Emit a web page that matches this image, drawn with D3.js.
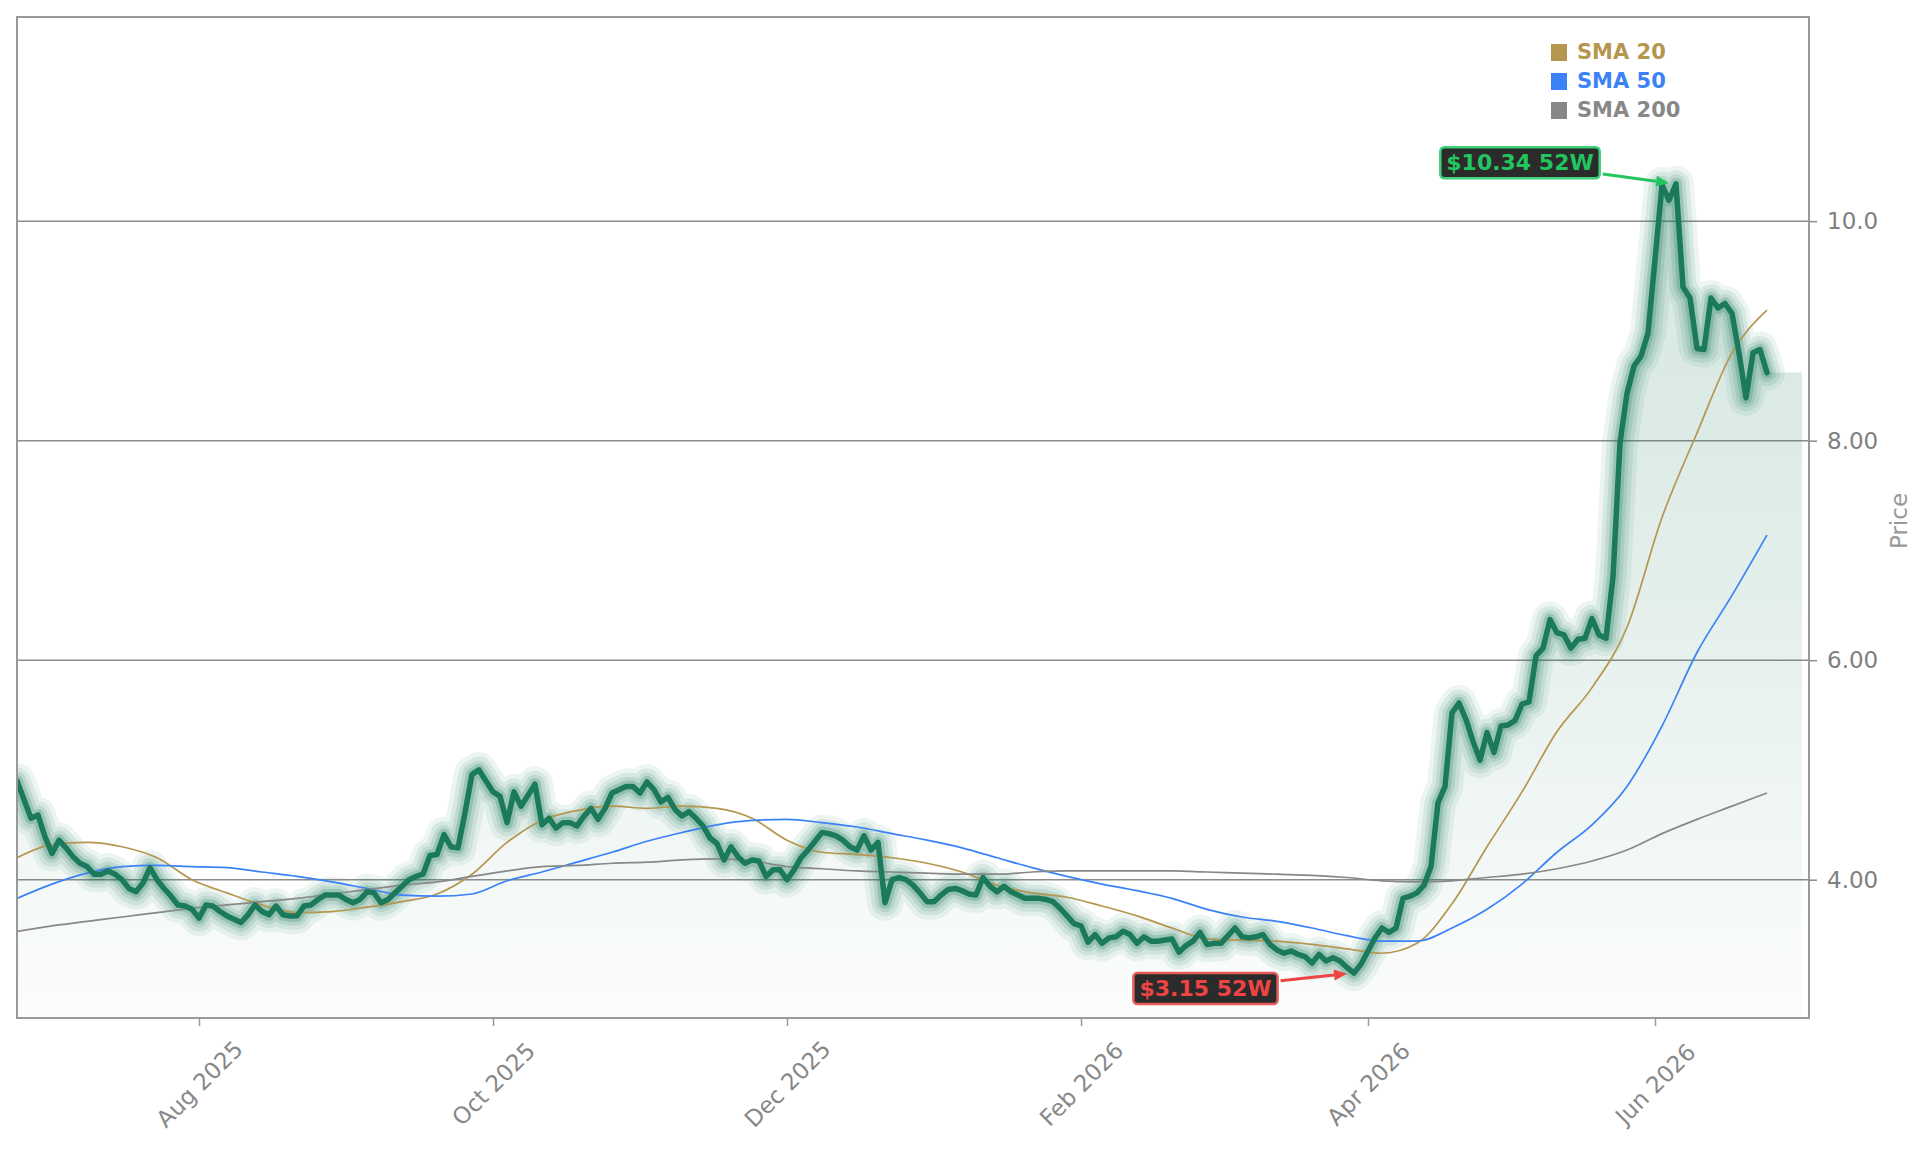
<!DOCTYPE html>
<html>
<head>
<meta charset="utf-8">
<script src="https://cdn.jsdelivr.net/npm/d3@7"></script>
<style>
  html, body { margin: 0; padding: 0; background: #fff; }
  svg { display: block; font-family: "DejaVu Sans", sans-serif; }
</style>
</head>
<body>
<svg id="chart"></svg>
<script>
// daily closes, one per trading day (index 0 = first day shown)
const price = [
  4.90, 4.73, 4.56, 4.59, 4.39, 4.24, 4.36, 4.29, 4.21, 4.15,
  4.12, 4.05, 4.05, 4.08, 4.05, 4.00, 3.92, 3.89, 3.97, 4.11,
  4.00, 3.92, 3.85, 3.77, 3.76, 3.73, 3.65, 3.77, 3.76, 3.71,
  3.67, 3.64, 3.61, 3.68, 3.77, 3.71, 3.68, 3.76, 3.68, 3.67,
  3.67, 3.76, 3.77, 3.82, 3.86, 3.86, 3.86, 3.82, 3.79, 3.82,
  3.89, 3.88, 3.79, 3.82, 3.88, 3.94, 4.00, 4.03, 4.05, 4.22,
  4.23, 4.41, 4.30, 4.29, 4.61, 4.96, 5.00, 4.90, 4.80, 4.76,
  4.52, 4.80, 4.67, 4.77, 4.87, 4.50, 4.56, 4.47, 4.52, 4.52,
  4.49, 4.58, 4.65, 4.55, 4.65, 4.79, 4.82, 4.85, 4.85, 4.79,
  4.89, 4.82, 4.71, 4.75, 4.64, 4.58, 4.62, 4.56, 4.49, 4.38,
  4.33, 4.18, 4.30, 4.21, 4.15, 4.18, 4.17, 4.03, 4.09, 4.09,
  4.00, 4.09, 4.20, 4.27, 4.35, 4.43, 4.42, 4.40, 4.36, 4.30,
  4.27, 4.40, 4.27, 4.34, 3.79, 4.00, 4.02, 4.00, 3.95, 3.88,
  3.80, 3.80, 3.86, 3.91, 3.92, 3.90, 3.87, 3.86, 4.02, 3.94,
  3.89, 3.94, 3.89, 3.86, 3.83, 3.83, 3.83, 3.82, 3.80, 3.74,
  3.67, 3.60, 3.58, 3.43, 3.50, 3.42, 3.47, 3.48, 3.53, 3.50,
  3.42, 3.48, 3.44, 3.44, 3.45, 3.46, 3.34, 3.40, 3.44, 3.52,
  3.41, 3.42, 3.42, 3.49, 3.56, 3.48, 3.47, 3.48, 3.50, 3.41,
  3.36, 3.33, 3.35, 3.32, 3.30, 3.24, 3.32, 3.26, 3.29, 3.26,
  3.20, 3.15, 3.23, 3.35, 3.47, 3.56, 3.52, 3.56, 3.83, 3.85,
  3.88, 3.95, 4.12, 4.70, 4.85, 5.52, 5.61, 5.46, 5.26, 5.09,
  5.34, 5.16, 5.40, 5.41, 5.45, 5.60, 5.62, 6.04, 6.11, 6.37,
  6.25, 6.23, 6.11, 6.19, 6.20, 6.38, 6.23, 6.20, 6.76, 7.98,
  8.43, 8.68, 8.77, 8.98, 9.65, 10.33, 10.19, 10.34, 9.40, 9.30,
  8.84, 8.83, 9.30, 9.21, 9.25, 9.16, 8.80, 8.39, 8.80, 8.83,
  8.62
];

// moving averages, sampled every 5 trading days
const smaStep = 5;
const sma20 = [4.20, 4.32, 4.34, 4.30, 4.20, 4.00, 3.88, 3.77, 3.70, 3.71, 3.75, 3.80, 3.87, 4.05, 4.34, 4.54, 4.63,
  4.67, 4.65, 4.67, 4.65, 4.56, 4.36, 4.25, 4.23, 4.20, 4.15, 4.07, 3.95, 3.88, 3.84, 3.76, 3.67, 3.56, 3.46,
  3.45, 3.44, 3.41, 3.37, 3.33, 3.42, 3.78, 4.30, 4.80, 5.35, 5.75, 6.30, 7.30, 8.07, 8.80, 9.19];
const sma50 = [3.83, 3.96, 4.06, 4.12, 4.13, 4.12, 4.11, 4.07, 4.03, 3.98, 3.92, 3.86, 3.85, 3.87, 3.99, 4.07, 4.16,
  4.25, 4.35, 4.43, 4.50, 4.54, 4.55, 4.52, 4.48, 4.42, 4.36, 4.29, 4.20, 4.11, 4.03, 3.96, 3.90, 3.83, 3.73,
  3.66, 3.62, 3.56, 3.49, 3.44, 3.44, 3.56, 3.73, 3.96, 4.25, 4.50, 4.85, 5.40, 6.07, 6.59, 7.14];
const sma200 = [3.53, 3.58, 3.62, 3.66, 3.70, 3.74, 3.77, 3.80, 3.83, 3.87, 3.91, 3.95, 3.98, 4.03, 4.08, 4.12, 4.13,
  4.15, 4.16, 4.18, 4.19, 4.17, 4.12, 4.10, 4.08, 4.07, 4.06, 4.05, 4.05, 4.07, 4.08, 4.08, 4.08, 4.08, 4.07,
  4.06, 4.05, 4.04, 4.02, 3.99, 3.98, 3.99, 4.02, 4.05, 4.10, 4.17, 4.27, 4.42, 4.55, 4.67, 4.79];

const xTickDays = [26, 68, 110, 152, 193, 234];
const xTickLabels = ["Aug 2025", "Oct 2025", "Dec 2025", "Feb 2026", "Apr 2026", "Jun 2026"];
const yTicks = [4, 6, 8, 10];
const yTickLabels = ["4.00", "6.00", "8.00", "10.0"];
const legendNames = ["SMA 20", "SMA 50", "SMA 200"];
const legendColors = ["#b5964f", "#3b82f6", "#888888"];

const W = 1929, H = 1151;
const plot = {left: 17, right: 1809, top: 17, bottom: 1018};
const lineColor = "#1b7a5b";
const fillEndDay = 255;

const svg = d3.select('#chart').attr('width', W).attr('height', H);
svg.append('rect').attr('width', W).attr('height', H).attr('fill', '#fff');

const x = d3.scaleLinear().domain([0, 256]).range([plot.left, plot.right]);
const y = d3.scaleLinear().domain([2.74, 11.86]).range([plot.bottom, plot.top]);

const defs = svg.append('defs');
defs.append('clipPath').attr('id', 'clip')
  .append('rect')
  .attr('x', plot.left).attr('y', plot.top)
  .attr('width', plot.right - plot.left).attr('height', plot.bottom - plot.top);

const grad = defs.append('linearGradient').attr('id', 'areaGrad')
  .attr('gradientUnits', 'userSpaceOnUse')
  .attr('x1', 0).attr('x2', 0)
  .attr('y1', y(d3.max(price))).attr('y2', plot.bottom);
grad.append('stop').attr('offset', '0%').attr('stop-color', lineColor).attr('stop-opacity', 0.19);
grad.append('stop').attr('offset', '50%').attr('stop-color', lineColor).attr('stop-opacity', 0.12);
grad.append('stop').attr('offset', '100%').attr('stop-color', lineColor).attr('stop-opacity', 0.015);

// grid
svg.append('g').selectAll('line')
  .data(yTicks).enter().append('line')
  .attr('x1', plot.left).attr('x2', plot.right)
  .attr('y1', d => y(d)).attr('y2', d => y(d))
  .attr('stroke', '#8c8c8c').attr('stroke-width', 1.5);

const body = svg.append('g').attr('clip-path', 'url(#clip)');

const pts = price.map((p, i) => [i, p]);
const fillPts = pts.concat([[fillEndDay, price[price.length - 1]]]);

const area = d3.area()
  .x(d => x(d[0])).y0(plot.bottom).y1(d => y(d[1]));
body.append('path').datum(fillPts)
  .attr('d', area)
  .attr('fill', 'url(#areaGrad)');

const line = d3.line().x(d => x(d[0])).y(d => y(d[1]));

// glow around price line
const glow = [[36, 0.08], [27, 0.10], [19, 0.13], [12, 0.22]];
glow.forEach(g => {
  body.append('path').datum(pts)
    .attr('d', line)
    .attr('fill', 'none')
    .attr('stroke', lineColor)
    .attr('stroke-opacity', g[1])
    .attr('stroke-width', g[0])
    .attr('stroke-linejoin', 'round')
    .attr('stroke-linecap', 'round');
});

// moving averages
const smaLine = d3.line()
  .x((d, i) => x(i * smaStep)).y(d => y(d))
  .curve(d3.curveMonotoneX);
[sma20, sma50, sma200].forEach((s, k) => {
  body.append('path').datum(s)
    .attr('d', smaLine)
    .attr('fill', 'none')
    .attr('stroke', legendColors[k])
    .attr('stroke-width', 1.7);
});

body.append('path').datum(pts)
  .attr('d', line)
  .attr('fill', 'none')
  .attr('stroke', lineColor)
  .attr('stroke-width', 5.5)
  .attr('stroke-linejoin', 'round')
  .attr('stroke-linecap', 'round');

// frame
svg.append('rect')
  .attr('x', plot.left).attr('y', plot.top)
  .attr('width', plot.right - plot.left).attr('height', plot.bottom - plot.top)
  .attr('fill', 'none').attr('stroke', '#999').attr('stroke-width', 2);

// y axis on the right
const yAxis = svg.append('g')
  .attr('transform', `translate(${plot.right},0)`)
  .call(d3.axisRight(y).tickValues(yTicks).tickFormat((d, i) => yTickLabels[i]).tickSize(8).tickPadding(10));
yAxis.select('.domain').remove();
yAxis.selectAll('line').attr('stroke', '#8c8c8c').attr('stroke-width', 1.5);
yAxis.selectAll('text').attr('fill', '#808080').attr('font-size', 23)
  .attr('font-family', '"DejaVu Sans", sans-serif');

svg.append('text')
  .attr('transform', 'translate(1899,521) rotate(-90)')
  .attr('text-anchor', 'middle').attr('dominant-baseline', 'central')
  .attr('font-size', 23).attr('fill', '#999')
  .text('Price');

// x axis
const xAxis = svg.append('g')
  .attr('transform', `translate(0,${plot.bottom})`)
  .call(d3.axisBottom(x).tickValues(xTickDays).tickFormat((d, i) => xTickLabels[i]).tickSize(8));
xAxis.select('.domain').remove();
xAxis.selectAll('line').attr('stroke', '#999').attr('stroke-width', 1.5);
xAxis.selectAll('text')
  .attr('y', 0).attr('dy', '0.35em')
  .attr('transform', 'translate(0,66) rotate(-45)')
  .attr('text-anchor', 'middle')
  .attr('fill', '#888').attr('font-size', 23)
  .attr('font-family', '"DejaVu Sans", sans-serif');

// legend
const legend = svg.append('g').attr('transform', 'translate(1551,59)');
legendNames.forEach((name, k) => {
  legend.append('rect')
    .attr('x', 0).attr('y', k * 29 - 15)
    .attr('width', 16).attr('height', 17)
    .attr('fill', legendColors[k]);
  legend.append('text')
    .attr('x', 26).attr('y', k * 29)
    .attr('font-size', 21).attr('font-weight', 'bold')
    .attr('fill', legendColors[k])
    .text(name);
});

// 52 week high / low callouts
function callout(day, dx, dy, color, border) {
  const v = price[day];
  const tx = x(day), ty = y(v);
  const cx = tx + dx, cy = ty + dy;
  const g = svg.append('g');
  const box = g.append('rect');
  const t = g.append('text')
    .attr('x', cx).attr('y', cy)
    .attr('text-anchor', 'middle').attr('dominant-baseline', 'central')
    .attr('font-size', 22).attr('font-weight', 'bold')
    .attr('fill', color)
    .text(`$${v.toFixed(2)} 52W`);
  const bw = t.node().getComputedTextLength() + 12, bh = 31;
  box.attr('x', cx - bw / 2).attr('y', cy - bh / 2)
    .attr('width', bw).attr('height', bh).attr('rx', 4)
    .attr('fill', '#2b2b2b').attr('stroke', border).attr('stroke-width', 2.5);

  const a = Math.atan2(ty - cy, tx - cx);
  const c = Math.cos(a), s = Math.sin(a);
  const edge = Math.min((bw / 2) / Math.abs(c), (bh / 2) / Math.abs(s)) + 3;
  const x0 = cx + c * edge, y0 = cy + s * edge;
  const x1 = tx - c * 7, y1 = ty - s * 7;
  const hl = 13, hw = 5.5;
  const bx = x1 - c * hl, by = y1 - s * hl;
  g.append('line')
    .attr('x1', x0).attr('y1', y0).attr('x2', bx).attr('y2', by)
    .attr('stroke', color).attr('stroke-width', 3);
  g.append('path')
    .attr('d', `M${x1},${y1}L${bx - s * hw},${by + c * hw}L${bx + s * hw},${by - c * hw}Z`)
    .attr('fill', color);
}

callout(d3.maxIndex(price), -156, -21, '#22c55e', '#3fd07a');
callout(d3.minIndex(price), -148.5, 15.5, '#ef4444', '#e85a5a');
</script>
</body>
</html>
